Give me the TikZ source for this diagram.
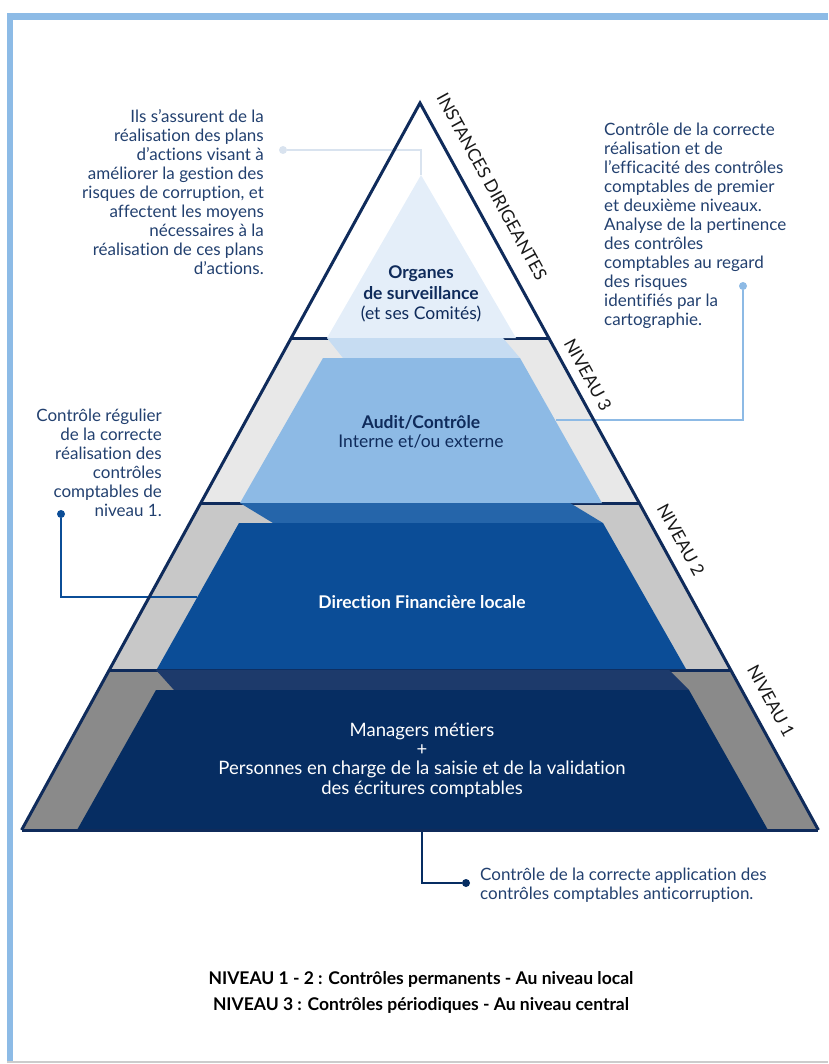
\documentclass[tikz,border=0pt]{standalone}
\usepackage{fontspec}
\setmainfont{Lato}[Ligatures=NoCommon]
\usepackage{tikz}
\definecolor{ink}{HTML}{0F2B5B}
\definecolor{txt}{HTML}{22406F}
\definecolor{frameblue}{HTML}{8DBBE6}
\definecolor{pale}{HTML}{E4EEF9}
\definecolor{stripc}{HTML}{C6DCF2}
\definecolor{audit}{HTML}{8DBAE5}
\definecolor{greyc}{HTML}{E8E8E8}
\definecolor{stripb}{HTML}{2565AA}
\definecolor{direction}{HTML}{0B4D97}
\definecolor{greyb}{HTML}{C8C8C8}
\definecolor{stripa}{HTML}{1D3A6B}
\definecolor{managers}{HTML}{062D62}
\definecolor{greya}{HTML}{8A8A8A}
\definecolor{lineg}{HTML}{D9E3EF}

\begin{document}
\begin{tikzpicture}[x=1pt,y=-1pt]
\tikzstyle{note}=[inner sep=0pt, text=txt, font=\fontsize{17}{19}\selectfont]
\tikzstyle{tier}=[inner sep=0pt, align=center, font=\fontsize{17.5}{19.3}\selectfont]
\tikzstyle{side}=[inner sep=0pt, rotate=-61.3, text=black!90, font=\fontsize{17.5}{18}\selectfont]
\tikzstyle{dot}=[circle, minimum size=8pt, inner sep=0pt]
\tikzstyle{link}=[line width=2.5pt]
\useasboundingbox (0,0) rectangle (828,1064);
\fill[frameblue] (7,13) rectangle (828,20);
\fill[frameblue] (7,13) rectangle (13,1062);
\draw[black!20, line width=1.5pt] (7,1062) -- (828,1062);

\coordinate (apex) at (420,103);
\coordinate (bl) at (21.6,830);
\coordinate (br) at (818.4,830);

\fill[greyc] (291.2,338) -- (548.8,338) -- (639.2,503) -- (200.8,503) -- cycle;
\fill[greyb] (200.8,503) -- (639.2,503) -- (730.7,670) -- (109.3,670) -- cycle;
\fill[greya] (109.3,670) -- (730.7,670) -- (br) -- (bl) -- cycle;
\draw[ink, line width=3pt] (291.2,338) -- (548.8,338) (200.8,503) -- (639.2,503) (109.3,670) -- (730.7,670);

\fill[pale] (421,175) -- (516,338) -- (327,338) -- cycle;
\fill[stripc] (327,338) -- (503,338) -- (520,358) -- (343,358) -- cycle;
\fill[audit] (323,358) -- (520,358) -- (602,503) -- (240,503) -- cycle;
\fill[stripb] (240,503) -- (570,503) -- (603,523) -- (273,523) -- cycle;
\fill[direction] (239,523) -- (603,523) -- (686,669) -- (157,669) -- cycle;
\fill[stripa] (156,670) -- (669,670) -- (689,690) -- (174,690) -- cycle;
\fill[managers] (156,690) -- (689,690) -- (768,830) -- (77,830) -- cycle;

\node[dot, fill=lineg] (dtop) at (283,150) {};
\coordinate (torg) at (421,175);
\draw[link, lineg] (dtop) -| (torg);
\node[dot, fill=audit] (dright) at (743,286) {};
\coordinate (taud) at (556,420);
\draw[link, audit] (dright) |- (taud);
\node[dot, fill=direction] (dleft) at (61,514) {};
\coordinate (tdir) at (197,597);
\draw[link, direction] (dleft) |- (tdir);
\coordinate (tman) at (422,831);
\node[dot, fill=managers] (dbot) at (466,883) {};
\draw[link, managers] (tman) |- (dbot);

\draw[ink, line width=3pt] (bl) -- (br);
\draw[ink, line width=3pt, line join=miter] (bl) -- (apex) -- (br);

\node[tier, text=ink, font=\fontsize{17.5}{20.5}\selectfont] (organes) at (421,294) {\textbf{Organes}\\\textbf{de surveillance}\\(et ses Comités)};
\node[tier, text=ink] (auditc) at (421,432) {\textbf{Audit/Contrôle}\\Interne et/ou externe};
\node[tier, text=white] (dirfin) at (422,602) {\textbf{Direction Financière locale}};
\node[tier, text=white, font=\fontsize{18.5}{19.3}\selectfont] (manag) at (422,760) {Managers métiers\\+\\Personnes en charge de la saisie et de la validation\\des écritures comptables};

\node[side] (instances) at (492,187) {INSTANCES DIRIGEANTES};
\node[side] (niv3) at (588,375) {NIVEAU 3};
\node[side] (niv2) at (681,540) {NIVEAU 2};
\node[side] (niv1) at (771,701) {NIVEAU 1};

\node[note, anchor=north east, align=right] (ntop) at (264,109) {Ils s’assurent de la\\réalisation des plans\\d’actions visant à\\améliorer la gestion des\\risques de corruption, et\\affectent les moyens\\nécessaires à la\\réalisation de ces plans\\d’actions.};
\node[note, anchor=north west, align=left] (nright) at (604,123) {Contrôle de la correcte\\réalisation et de\\l’efficacité des contrôles\\comptables de premier\\et deuxième niveaux.\\Analyse de la pertinence\\des contrôles\\comptables au regard\\des risques\\identifiés par la\\cartographie.};
\node[note, anchor=north east, align=right] (nleft) at (162,409) {Contrôle régulier\\de la correcte\\réalisation des\\contrôles\\comptables de\\niveau 1.};
\node[note, anchor=north west, align=left] (nbot) at (480,868) {Contrôle de la correcte application des\\contrôles comptables anticorruption.};

\node[inner sep=0pt, align=center, font=\fontsize{17.5}{26}\selectfont\bfseries] (summary) at (421,992) {NIVEAU 1 - 2 : Contrôles permanents - Au niveau local\\NIVEAU 3 : Contrôles périodiques - Au niveau central};
\end{tikzpicture}
\end{document}
